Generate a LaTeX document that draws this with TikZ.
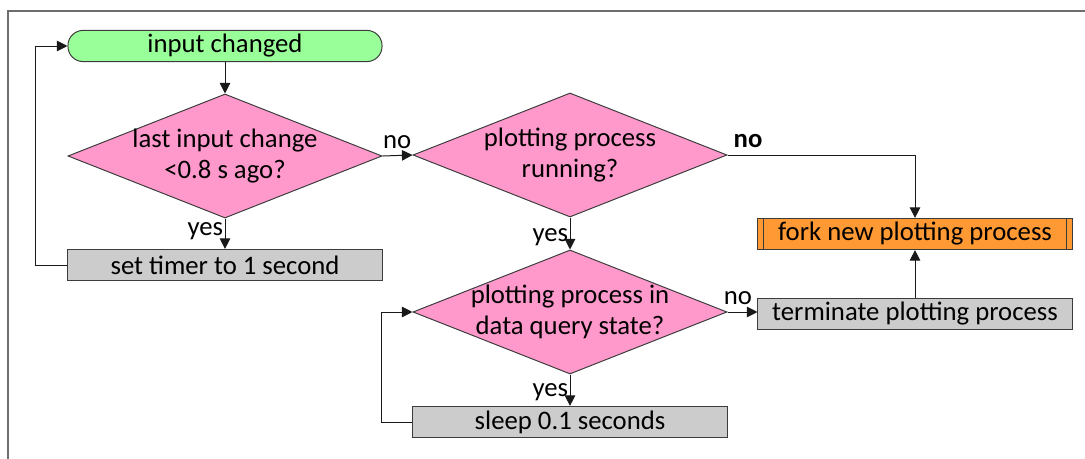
\documentclass[tikz,border=0pt]{standalone}
\usepackage{fontspec}
\setmainfont{Carlito}
\usetikzlibrary{positioning,shapes.geometric,arrows.meta}
\definecolor{startgreen}{HTML}{99FF99}
\definecolor{askpink}{HTML}{FF99CC}
\definecolor{forkorange}{HTML}{FF9933}
\definecolor{stepgray}{HTML}{CCCCCC}
\definecolor{edgegray}{HTML}{3C3C3C}
\definecolor{framegray}{HTML}{6E6E6E}
\tikzset{
  outline/.style={draw=edgegray, line width=0.7pt},
  stepbox/.style={outline, rectangle, fill=stepgray, minimum width=7.85cm, minimum height=0.78cm, inner sep=0pt},
  startbox/.style={stepbox, fill=startgreen, rounded corners=0.38cm},
  forkbox/.style={stepbox, fill=forkorange},
  decision/.style={outline, diamond, fill=askpink, minimum width=7.85cm, minimum height=3.1cm, inner sep=0pt},
  dtext/.style={align=center, inner sep=0pt},
  flow/.style={draw=black!90, line width=0.7pt, -{Triangle[length=7.5pt,width=7.5pt]}},
  lbl/.style={inner sep=1pt}
}

\begin{document}
\begin{tikzpicture}[x=0.025cm, y=-0.025cm, font=\fontsize{19}{22.5}\selectfont]
  \useasboundingbox (0,0) rectangle (1085,459);
  \draw[framegray, line width=1.1pt] (1085,11) -- (8,11) -- (8,459);

  % left column
  \node (start) [startbox] at (225,46) {input changed};
  \node (lastchange) [decision, label={[dtext]center:{last input change\\<0.8 s ago?}}] at (225,156) {};
  \node (timer) [stepbox] at (225,265) {set timer to 1 second};

  % middle column
  \node (running) [decision, label={[dtext]center:{plotting process\\running?}}] at (570,155) {};
  \node (querystate) [decision, label={[dtext]center:{plotting process in\\data query state?}}] at (570,312) {};
  \node (sleep) [stepbox] at (570,422) {sleep 0.1 seconds};

  % right column
  \node (fork) [forkbox] at (915,234) {fork new plotting process};
  \draw[outline] ([xshift=0.15cm]fork.north west) -- ([xshift=0.15cm]fork.south west);
  \draw[outline] ([xshift=-0.15cm]fork.north east) -- ([xshift=-0.15cm]fork.south east);
  \node (terminate) [stepbox] at (915,314) {terminate plotting process};

  \draw[flow] (start) -- (lastchange);
  \draw[flow] (lastchange) -- node[lbl, left, pos=0.42] {yes} (timer);
  \draw[flow] (timer.west) -- ++(-32,0) |- (start.west);
  \draw[flow] (lastchange.east) -- node[lbl, above right=4pt and -1pt, pos=0] {no} (running.west);
  \draw[flow] (running.east) -| node[lbl, above right=4pt and 3pt, pos=0] {\bfseries no} (fork.north);
  \draw[flow] (running) -- node[lbl, left, pos=0.6] {yes} (querystate);
  \draw[flow] (querystate.east) -- node[lbl, above right=4pt and -4pt, pos=0] {no} (querystate.east -| terminate.west);
  \draw[flow] (terminate) -- (fork);
  \draw[flow] (querystate) -- node[lbl, left, pos=0.55] {yes} (sleep);
  \draw[flow] (sleep.west) -- ++(-31,0) |- (querystate.west);

\end{tikzpicture}
\end{document}
